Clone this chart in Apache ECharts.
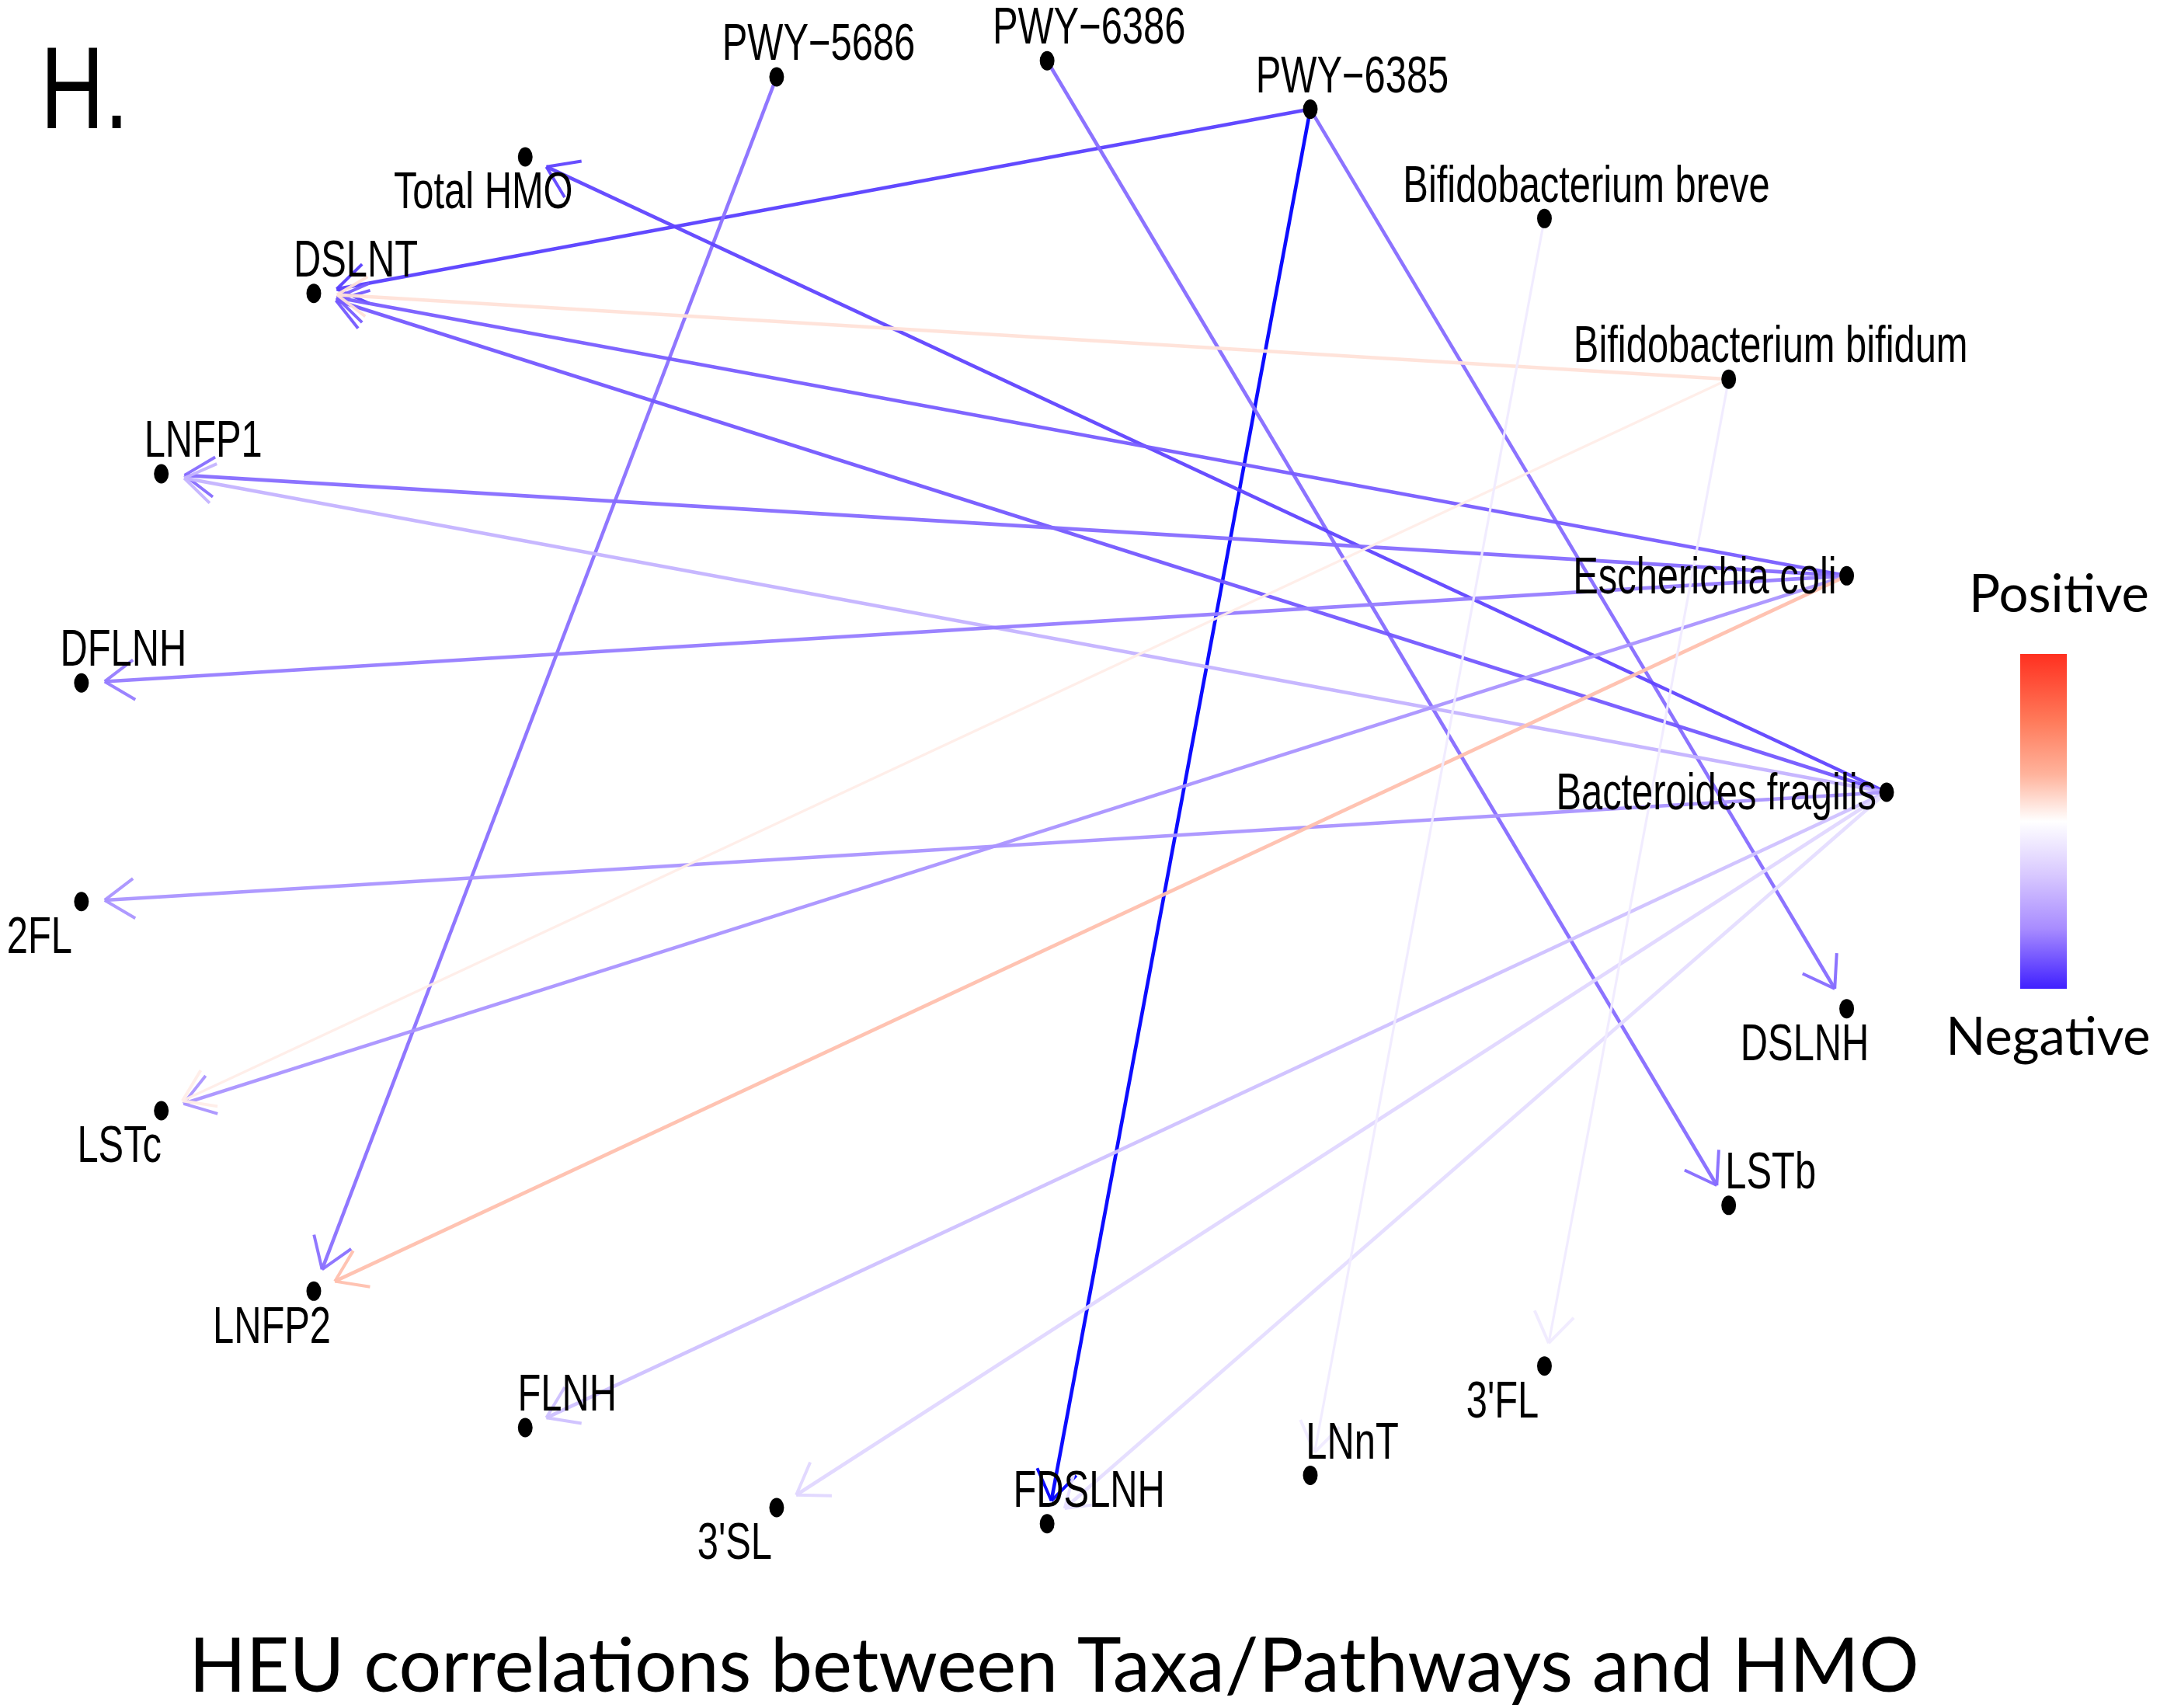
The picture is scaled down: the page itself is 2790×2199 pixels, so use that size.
<!DOCTYPE html>
<html><head><meta charset="utf-8">
<script src="https://cdn.jsdelivr.net/npm/echarts@6/dist/echarts.min.js"></script>
<style>html,body{margin:0;padding:0;background:#fff}#c{width:2790px;height:2199px}</style>
</head><body><div id="c"></div>
<script>
// ---- data ----
const nodeNames = ['Bacteroides fragilis','Escherichia coli','Bifidobacterium bifidum','Bifidobacterium breve',
  'PWY\u22126385','PWY\u22126386','PWY\u22125686','Total HMO','DSLNT','LNFP1','DFLNH','2FL','LSTc','LNFP2',
  'FLNH',"3'SL",'FDSLNH','LNnT',"3'FL",'LSTb','DSLNH'];
const nodeX = [1.000,0.956,0.826,0.623,0.365,0.075,-0.223,-0.500,-0.733,-0.901,-0.989,-0.989,-0.901,-0.733,-0.500,-0.223,0.075,0.365,0.623,0.826,0.956];
const nodeY = [0.000,0.295,0.563,0.782,0.931,0.997,0.975,0.866,0.680,0.434,0.149,-0.149,-0.434,-0.680,-0.866,-0.975,-0.997,-0.931,-0.782,-0.563,-0.295];

const edgeSource = ['PWY\u22126385','PWY\u22126385','PWY\u22126385','PWY\u22126386','PWY\u22125686',
  'Bacteroides fragilis','Bacteroides fragilis','Escherichia coli','Bifidobacterium bifidum',
  'Escherichia coli','Bacteroides fragilis','Escherichia coli','Bacteroides fragilis','Escherichia coli',
  'Bifidobacterium bifidum','Escherichia coli','Bacteroides fragilis','Bacteroides fragilis','Bacteroides fragilis',
  'Bifidobacterium breve','Bifidobacterium bifidum'];
const edgeTarget = ['DSLNT','FDSLNH','DSLNH','LSTb','LNFP2',
  'Total HMO','DSLNT','DSLNT','DSLNT',
  'LNFP1','LNFP1','DFLNH','2FL','LSTc',
  'LSTc','LNFP2','FLNH',"3'SL",'FDSLNH',
  'LNnT',"3'FL"];
const edgeCorr = [-0.78,-1.0,-0.58,-0.58,-0.56,
  -0.76,-0.67,-0.65,0.12,
  -0.58,-0.27,-0.5,-0.4,-0.4,
  0.07,0.25,-0.22,-0.14,-0.12,
  -0.07,-0.07];

const titleText = 'HEU correlations between Taxa/Pathways and HMO';
const legendTop = 'Positive', legendBottom = 'Negative', panelTag = 'H.';

// ---- styles ----
const labelPlacement = {
  'Bacteroides fragilis':'l','Escherichia coli':'l','Total HMO':'dl','2FL':'dl','LSTc':'dl','LNFP2':'dl',
  "3'SL":'dl',"3'FL":'dl','DSLNH':'dl'
};
const stops = [[-1,'#0000ff'],[-0.75,'#6448ff'],[-0.5,'#967cff'],[-0.25,'#c8b8ff'],[0,'#ffffff'],
  [0.25,'#ffc0ae'],[0.5,'#ff9478'],[0.75,'#ff6040'],[1,'#ff2000']];
function hex2rgb(h){return [parseInt(h.slice(1,3),16),parseInt(h.slice(3,5),16),parseInt(h.slice(5,7),16)];}
function corrColor(v){
  for(let i=0;i<stops.length-1;i++){
    const a=stops[i], b=stops[i+1];
    if(v>=a[0] && v<=b[0]){
      const t=(v-a[0])/(b[0]-a[0]); const ca=hex2rgb(a[1]), cb=hex2rgb(b[1]);
      return 'rgb('+ca.map((c,k)=>Math.round(c+(cb[k]-c)*t)).join(',')+')';
    }
  }
  return v<0?stops[0][1]:stops[stops.length-1][1];
}
const DOT = 'path://M0,0L0.01,0L0,0.01Z M100,100L99.99,100L100,99.99Z M34.2,50A15.8,20.8,0,1,0,65.8,50A15.8,20.8,0,1,0,34.2,50Z';
const ARROW = 'path://M-40,-40L-39.99,-40L-40,-39.99Z M40,40L39.99,40L40,39.99Z ' +
  'M1.6,-1.1L26.6,36.0L23.4,38.1L-1.6,1.1Z M1.6,1.1L-23.4,38.1L-26.6,36.0L-1.6,-1.1Z';

const chart = echarts.init(document.getElementById('c'), null, {renderer:'canvas'});
const labelFont = '66px "Liberation Sans", Arial, Helvetica, sans-serif';
chart.setOption({
  animation:false,
  backgroundColor:'#ffffff',
  grid:{left:92, right:361, top:75.4, bottom:234.4},
  xAxis:{type:'value', min:-1, max:1, show:false},
  yAxis:{type:'value', min:-1, max:1, show:false},
  series:[
    {
      type:'graph', coordinateSystem:'cartesian2d', layout:'none', silent:true, z:2,
      data: nodeNames.map((n,i)=>({name:n, value:[nodeX[i], nodeY[i]]})),
      symbol: DOT, symbolSize: 60,
      itemStyle:{color:'#000000'},
      label:{show:false},
      edgeSymbol:['none', ARROW], edgeSymbolSize: 82,
      lineStyle:{opacity:1, curveness:0},
      emphasis:{disabled:true},
      links: edgeSource.map((s,i)=>({
        source:s, target:edgeTarget[i],
        lineStyle:{color:corrColor(edgeCorr[i]), width: Math.abs(edgeCorr[i])<0.1?3.2:4.6, opacity:0.95}
      }))
    },
    {
      type:'custom', coordinateSystem:'cartesian2d', silent:true, z:10,
      data: nodeNames.map((n,i)=>[nodeX[i], nodeY[i], i]),
      renderItem(params, api){
        const i = api.value(2);
        const p = api.coord([api.value(0), api.value(1)]);
        const name = nodeNames[i];
        const pl = labelPlacement[name] || 'ur';
        let dx=54, dy=-40, align='center';
        if(pl==='dl'){dx=-54; dy=48;}
        if(pl==='l'){dx=-13; dy=4; align='right';}
        return {type:'text', x:p[0]+dx, y:p[1]+dy, scaleX:0.74,
          style:{text:name, x:0, y:0, fill:'#000', font:labelFont, align:align, verticalAlign:'middle'}};
      }
    }
  ],
  graphic:[
    {type:'text', x:52, y:124, scaleX:0.76, style:{text:panelTag, x:0, y:0, fill:'#000', font:'150px "Liberation Sans", Arial, sans-serif', align:'left', verticalAlign:'middle'}},
    {type:'text', x:1357, y:2147, style:{text:titleText, x:0,y:0, fill:'#000', font:'96.5px Lato, "Open Sans", sans-serif', align:'center', verticalAlign:'middle'}},
    {type:'text', x:2651, y:766, style:{text:legendTop, x:0,y:0, fill:'#000', font:'67px Lato, "Open Sans", sans-serif', align:'center', verticalAlign:'middle'}},
    {type:'text', x:2637, y:1336, style:{text:legendBottom, x:0,y:0, fill:'#000', font:'67px Lato, "Open Sans", sans-serif', align:'center', verticalAlign:'middle'}},
    {type:'rect', shape:{x:2601, y:842, width:60, height:431},
      style:{fill:{type:'linear', x:0, y:0, x2:0, y2:1, colorStops:[
        {offset:0, color:'#ff3020'},{offset:0.2, color:'#ff7a5a'},{offset:0.36, color:'#ffb39c'},
        {offset:0.5, color:'#ffffff'},{offset:0.66, color:'#d8c8ff'},{offset:0.82, color:'#a88cff'},{offset:1, color:'#4020ff'}]}}}
  ]
});
</script></body></html>
